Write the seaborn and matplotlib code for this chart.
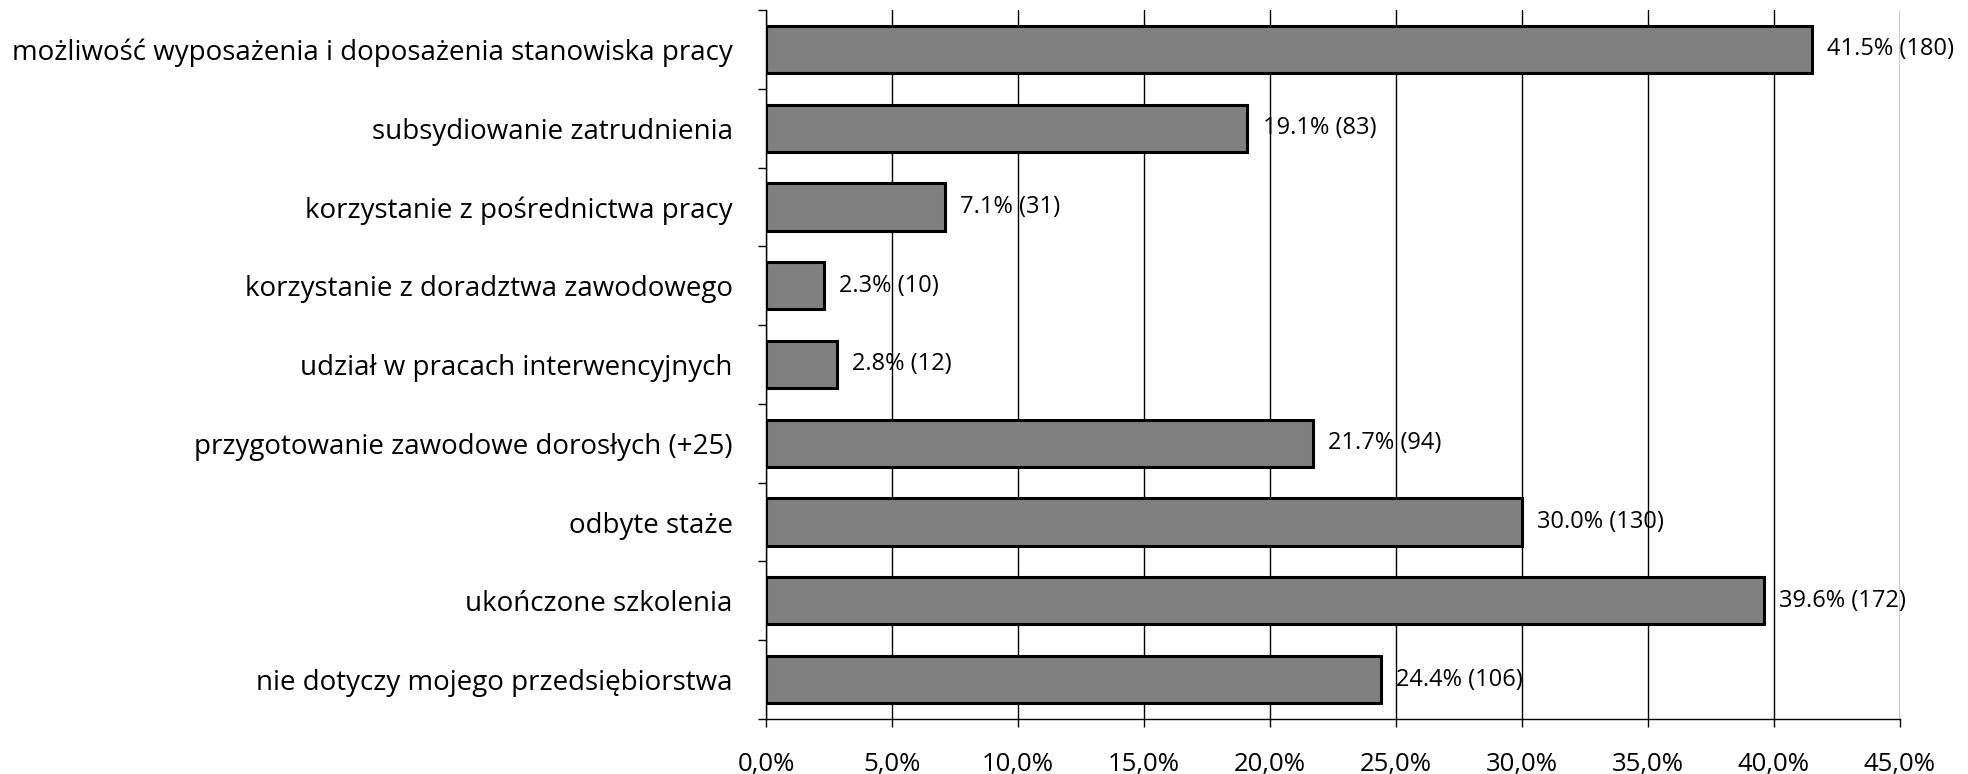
import matplotlib
matplotlib.use("Agg")
import matplotlib.pyplot as plt
from matplotlib.ticker import FixedLocator, MultipleLocator, FuncFormatter
import seaborn as sns
import pandas as pd

categories = [
    "możliwość wyposażenia i doposażenia stanowiska pracy",
    "subsydiowanie zatrudnienia",
    "korzystanie z pośrednictwa pracy",
    "korzystanie z doradztwa zawodowego",
    "udział w pracach interwencyjnych",
    "przygotowanie zawodowe dorosłych (+25)",
    "odbyte staże",
    "ukończone szkolenia",
    "nie dotyczy mojego przedsiębiorstwa",
]
percent = [41.5, 19.1, 7.1, 2.3, 2.8, 21.7, 30.0, 39.6, 24.4]
counts = [180, 83, 31, 10, 12, 94, 130, 172, 106]

sns.set_theme(style="white")
plt.rcParams["font.family"] = ["Open Sans", "DejaVu Sans"]

df = pd.DataFrame({"kategoria": categories, "procent": percent, "liczba": counts})

fig = plt.figure(figsize=(19.68, 7.74), dpi=100)
ax = fig.add_axes([766 / 1968, 1 - 719 / 774, (1900 - 766) / 1968, (719 - 10) / 774])

sns.barplot(data=df, x="procent", y="kategoria", orient="h", color="#808080",
            saturation=1, edgecolor="black", linewidth=2.2, width=0.6, ax=ax, zorder=3)

ax.set_xlim(0, 45)
ax.set_ylim(len(categories) - 0.5, -0.5)
ax.xaxis.set_major_locator(MultipleLocator(5))
ax.xaxis.set_major_formatter(FuncFormatter(lambda v, p: f"{v:.1f}".replace(".", ",") + "%"))
ax.grid(axis="x", color="black", linewidth=1.0, zorder=0)
ax.set_axisbelow(True)
ax.set_xlabel("")
ax.set_ylabel("")

for s in ["top", "right"]:
    ax.spines[s].set_visible(False)
for s in ["left", "bottom"]:
    ax.spines[s].set_color("black")
    ax.spines[s].set_linewidth(1.0)

# category ticks sit between bars, labels at bar centres
ax.yaxis.set_minor_locator(FixedLocator([i - 0.5 for i in range(len(categories) + 1)]))
ax.tick_params(axis="y", which="major", length=0, pad=24, labelsize=20, labelcolor="black")
ax.tick_params(axis="y", which="minor", left=True, length=6, width=1.0, color="black")
ax.tick_params(axis="x", which="major", bottom=True, length=6, width=1.0, color="black",
               pad=18, labelsize=18.5, labelcolor="black")

for i, (p, n) in enumerate(zip(percent, counts)):
    ax.annotate(f"{p:.1f}% ({n})", xy=(p, i), xytext=(11, 0), textcoords="offset points",
                va="center", ha="left", fontsize=17, color="black", zorder=4)

fig.savefig("out.png", dpi=100)
